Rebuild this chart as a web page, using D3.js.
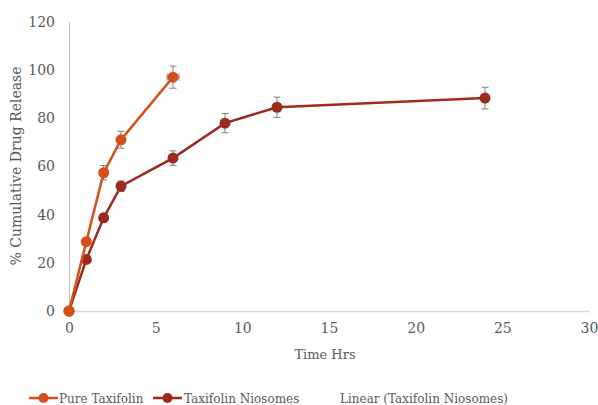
<!DOCTYPE html>
<html><head><meta charset="utf-8">
<script src="https://cdn.jsdelivr.net/npm/d3@7"></script>
<style>
body{margin:0;background:#fff;}
text{font-family:"DejaVu Serif",serif;fill:#595959;}
</style></head>
<body><svg id="c" width="598" height="405"></svg>
<script>
const timeHrs = [0, 1, 2, 3, 6, 9, 12, 24];
const pureTime = [0, 1, 2, 3, 6];
const pureValues = [0, 28.8, 57.4, 71.1, 97.1];
const pureErr = [0, 1, 3, 3.5, 4.6];
const nioTime = [0, 1, 2, 3, 6, 9, 12, 24];
const nioValues = [0, 21.4, 38.7, 51.8, 63.5, 78.0, 84.6, 88.4];
const nioErr = [0, 1, 1.6, 2.2, 3, 4, 4.2, 4.5];
const xTicks = [0, 5, 10, 15, 20, 25, 30];
const yTicks = [0, 20, 40, 60, 80, 100, 120];
const seriesNames = ["Pure Taxifolin", "Taxifolin Niosomes", "Linear (Taxifolin Niosomes)"];
const colors = ["#D4501A", "#9C2A1F"];

const svg = d3.select("#c");
const x = d3.scaleLinear().domain([0, 30]).range([69, 589]);
const y = d3.scaleLinear().domain([0, 120]).range([311, 22]);

// axes
const xAxis = svg.append("g").attr("transform", "translate(0,311)")
  .call(d3.axisBottom(x).tickValues(xTicks).tickSize(0).tickPadding(12));
xAxis.select(".domain").attr("stroke", "#d9d9d9").attr("stroke-width", 1.5);
xAxis.selectAll("text").style("font-size", "14px").attr("fill", "#595959");
const yAxis = svg.append("g").attr("transform", "translate(69,0)")
  .call(d3.axisLeft(y).tickValues(yTicks).tickSize(0).tickPadding(14));
yAxis.select(".domain").attr("stroke", "#bfbfbf").attr("stroke-width", 1);
yAxis.selectAll("text").style("font-size", "14px").attr("fill", "#595959");

svg.append("text").attr("x", 325).attr("y", 359).attr("text-anchor", "middle")
  .style("font-size", "13px").text("Time Hrs");
svg.append("text").attr("transform", "translate(21,166) rotate(-90)").attr("text-anchor", "middle")
  .style("font-size", "14px").text("% Cumulative Drug Release");

function drawSeries(ts, vs, es, color, hErr) {
  const data = ts.map((t, i) => ({t, v: vs[i], e: es[i]}));
  svg.append("path").datum(data)
    .attr("fill", "none").attr("stroke", color).attr("stroke-width", 2.5)
    .attr("d", d3.line().x(d => x(d.t)).y(d => y(d.v)));
  const eg = svg.append("g").attr("stroke", "#7f7f7f").attr("stroke-width", 1);
  data.filter(d => d.e > 0).forEach(d => {
    eg.append("line").attr("x1", x(d.t)).attr("x2", x(d.t)).attr("y1", y(d.v + d.e)).attr("y2", y(d.v - d.e));
    eg.append("line").attr("x1", x(d.t) - 3.5).attr("x2", x(d.t) + 3.5).attr("y1", y(d.v + d.e)).attr("y2", y(d.v + d.e));
    eg.append("line").attr("x1", x(d.t) - 3.5).attr("x2", x(d.t) + 3.5).attr("y1", y(d.v - d.e)).attr("y2", y(d.v - d.e));
  });
  if (hErr) {
    const d = data[data.length - 1];
    eg.append("line").attr("x1", x(d.t) - 6).attr("x2", x(d.t) + 6).attr("y1", y(d.v)).attr("y2", y(d.v));
    eg.append("line").attr("x1", x(d.t) - 6).attr("x2", x(d.t) - 6).attr("y1", y(d.v) - 3.5).attr("y2", y(d.v) + 3.5);
    eg.append("line").attr("x1", x(d.t) + 6).attr("x2", x(d.t) + 6).attr("y1", y(d.v) - 3.5).attr("y2", y(d.v) + 3.5);
  }
  svg.append("g").selectAll("circle").data(data).join("circle")
    .attr("cx", d => x(d.t)).attr("cy", d => y(d.v)).attr("r", 5.5).attr("fill", color);
}
drawSeries(nioTime, nioValues, nioErr, colors[1], false);
drawSeries(pureTime, pureValues, pureErr, colors[0], true);

// legend
const leg = svg.append("g");
const legItems = [
  {name: seriesNames[0], color: colors[0], mx: 29, tx: 59},
  {name: seriesNames[1], color: colors[1], mx: 153, tx: 184},
  {name: seriesNames[2], color: null, mx: 0, tx: 340}
];
legItems.forEach(it => {
  if (it.color) {
    leg.append("line").attr("x1", it.mx).attr("x2", it.mx + 29).attr("y1", 398).attr("y2", 398)
      .attr("stroke", it.color).attr("stroke-width", 2.5);
    leg.append("circle").attr("cx", it.mx + 14.5).attr("cy", 398).attr("r", 5).attr("fill", it.color);
  }
  leg.append("text").attr("x", it.tx).attr("y", 402.5).style("font-size", "12px").text(it.name);
});
</script></body></html>
